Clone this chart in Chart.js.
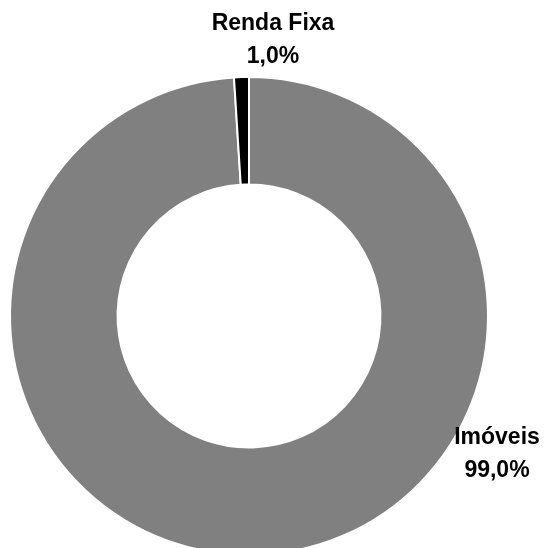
<!DOCTYPE html>
<html>
<head>
<meta charset="utf-8">
<script src="https://cdn.jsdelivr.net/npm/chart.js@4"></script>
<style>
    html, body { margin: 0; padding: 0; background: #fff; overflow: hidden; }
    #wrap { position: relative; width: 545px; height: 560px; }
</style>
</head>
<body>
<div id="wrap"><canvas id="pieChart"></canvas></div>
<script>
// Data
const labels = ['Imóveis', 'Renda Fixa'];
const values = [99.0, 1.0];
const colors = ['#808080', '#000000'];

// label anchors, relative to the doughnut centre (Excel-style placement)
const labelOffsets = [
    { dx: 248, dy: 128 },
    { dx: 24, dy: -286 }
];

const fmt = v => v.toFixed(1).replace('.', ',') + '%';

const labelPlugin = {
    id: 'sliceLabels',
    afterDatasetsDraw(chart) {
        const ctx = chart.ctx;
        const arcs = chart.getDatasetMeta(0).data;
        ctx.save();
        ctx.fillStyle = '#000';
        ctx.font = 'bold 23px "Liberation Sans", Arial, sans-serif';
        ctx.textAlign = 'center';
        ctx.textBaseline = 'alphabetic';
        arcs.forEach((arc, i) => {
            const x = arc.x + labelOffsets[i].dx;
            const y = arc.y + labelOffsets[i].dy;
            ctx.fillText(labels[i], x, y);
            ctx.fillText(fmt(values[i]), x, y + 33);
        });
        ctx.restore();
    }
};

const ctx = document.getElementById('pieChart').getContext('2d');
new Chart(ctx, {
    type: 'doughnut',
    data: {
        labels: labels,
        datasets: [{
            data: values,
            backgroundColor: colors,
            borderColor: '#ffffff',
            borderWidth: 2
        }]
    },
    options: {
        responsive: true,
        maintainAspectRatio: false,
        animation: false,
        cutout: '55%',
        rotation: 0,
        layout: { padding: { left: 9, right: 56, top: 76, bottom: 4 } },
        plugins: {
            legend: { display: false },
            tooltip: { enabled: false }
        }
    },
    plugins: [labelPlugin]
});
</script>
</body>
</html>
